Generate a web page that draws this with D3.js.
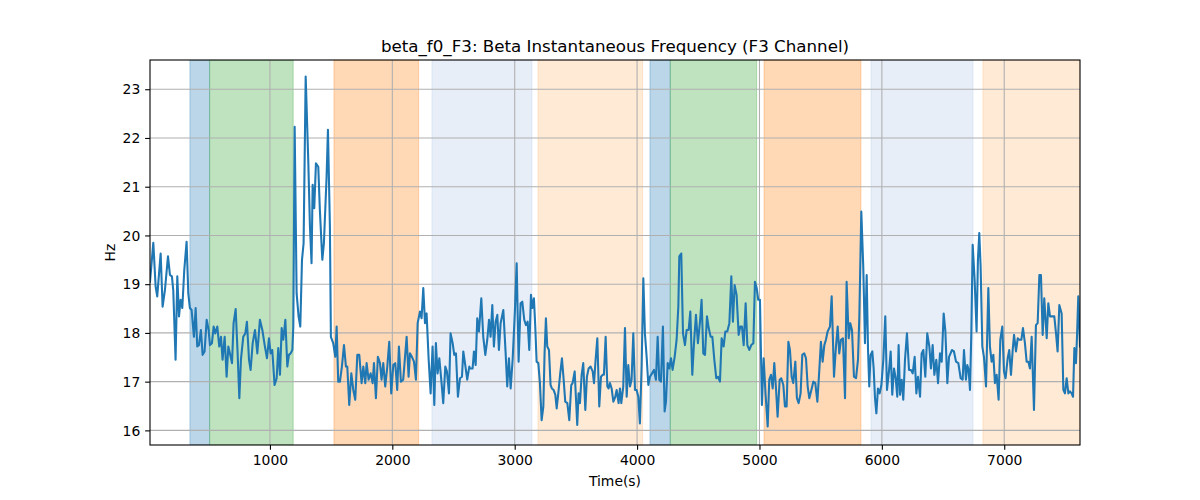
<!DOCTYPE html>
<html>
<head>
<meta charset="utf-8">
<script src="https://cdn.jsdelivr.net/npm/d3@7"></script>
<style>
  html, body { margin: 0; padding: 0; background: #fff; }
  svg { display: block; font-family: "DejaVu Sans", sans-serif; }
</style>
</head>
<body>
<svg id="chart" width="1200" height="500"></svg>
<script>
// ---------------- data ----------------
const titleText = "beta_f0_F3: Beta Instantaneous Frequency (F3 Channel)";
const xLabelText = "Time(s)";
const yLabelText = "Hz";

const xTicks = [1000, 2000, 3000, 4000, 5000, 6000, 7000];
const yTicks = [16, 17, 18, 19, 20, 21, 22, 23];
const yLimits = [15.70, 23.60];

const spanStarts = [346, 507, 1523, 2324, 3190, 4105, 4271, 5037, 5911, 6826];
const spanEnds   = [507, 1190, 2215, 3141, 4045, 4271, 4977, 5829, 6745, 7619];
const spanKinds  = ["A", "B", "C", "D", "E", "A", "B", "C", "D", "E"];

const times = [
20,47,66,79,107,123,142,167,183,199,210,229,243,257,270,284,300,319,333,346,360,379,393,406,420,436,450,466,483,499,510,526,540,553,570,586,600,613,630,646,660,673,690,703,720,736,750,763,782,799,812,829,842,859,878,897,918,938,959,976,992,1006,1019,1038,1055,1068,1082,1096,1109,1126,1142,1155,1169,1183,1191,1202,1218,1234,1248,1262,1275,1292,
1313,1327,1340,1349,1362,1376,1395,1408,1428,1441,1463,1474,1490,1498,1517,1534,1545,1558,1572,1588,1605,1621,1632,1648,1665,1681,1697,1714,1730,1749,1763,1779,1790,1806,1823,1839,1850,1866,1882,1899,1912,1926,1942,1959,1975,1991,2008,2024,2040,2054,2070,2089,2117,2133,2144,2160,2177,2193,2207,2226,2239,2253,2267,2280,2297,2313,2329,2343,2356,2370,2384,2400,2416,2433,2446,2463,2476,2493,2506,2520,2536,2553,2569,2580,2596,2612,2629,
2634,2656,2667,2681,2694,2708,2727,2743,2760,2776,2790,2803,2817,2830,2844,2858,2871,2885,2907,2926,2939,2953,2967,2983,3002,3016,3032,3048,3062,3078,3092,3106,3119,3133,3144,3157,3168,3179,3193,3206,3220,3234,3244,3255,3266,3280,3293,3304,3318,3332,3343,3359,3372,3386,3400,3413,3430,3446,3462,3473,3490,3501,3511,3522,3533,3547,3560,3577,3590,3604,3620,3637,3648,3661,3675,3691,3705,3718,3729,3743,3757,3767,3778,3792,3806,3822,3833,3849,3860,3871,3887,3901,3915,3928,3942,
3955,3969,3983,3996,4010,4023,4037,4051,4064,4078,4092,4105,4122,4138,4154,4168,4181,4195,4211,4225,4236,4250,4263,4277,4290,4307,4323,4337,4345,4361,4375,4391,4405,4421,4435,4451,4465,4481,4497,4514,4527,4541,4555,4571,4585,4601,4615,4631,4647,4661,4677,4691,4707,4721,4737,4754,4770,4783,4797,4813,4830,4843,4857,4871,4887,4901,4917,4933,4950,4963,4977,4990,5004,5020,5034,5050,5067,5080,5094,5108,5121,5135,5148,5165,5178,5195,5208,5222,5236,5249,
5263,5276,5293,5306,5320,5336,5350,5366,5380,5394,5407,5424,5440,5456,5473,5489,5502,5516,5530,5543,5557,5576,5590,5609,5625,5639,5652,5666,5682,5699,5712,5729,5742,5756,5772,5789,5805,5816,5832,5848,5862,5876,5887,5897,5908,5922,5933,5944,5955,5968,5982,5996,6012,6028,6042,6058,6072,6085,6099,6113,6126,6137,6148,6162,6175,6189,6205,6222,6238,6252,6268,6282,6295,6312,6325,6339,6355,6371,6388,6401,6415,6429,6445,6459,6475,6489,6505,6519,6535,6549,
6573,6589,6606,6625,6644,6660,6671,6687,6698,6709,6720,6731,6742,6758,6774,6785,6796,6807,6821,6834,6851,6870,6883,6897,6911,6924,6938,6954,6968,6984,6998,7011,7028,7041,7055,7069,7080,7096,7110,7123,7140,7153,7169,7183,7197,7210,7224,7243,7259,7273,7287,7300,7314,7327,7347,7360,7374,7387,7409,7423,7436,7450,7469,7483,7496,7510,7524,7537,7551,7562,7573,7586,7594,7605,7619
];

const values = [
19.05,19.85,18.95,18.75,19.63,18.54,18.88,19.57,19.19,19.16,18.88,17.45,19.16,18.34,18.68,18.51,19.29,19.87,18.81,18.51,18.47,17.92,18.51,17.72,17.75,18.06,17.55,17.62,18.27,18.06,17.75,17.79,18.13,17.99,18.13,17.72,17.92,17.45,17.92,17.10,17.72,17.58,17.38,18.20,18.49,17.58,16.66,17.45,17.92,17.99,18.23,17.45,17.24,17.79,18.06,17.58,18.27,18.06,17.72,17.48,17.89,17.58,17.65,16.93,17.07,17.69,17.14,18.10,17.86,18.27,17.31,17.55,17.58,17.65,18.13,22.23,18.81,18.34,18.13,19.50,19.84,23.26,
21.55,20.18,19.43,21.04,20.56,21.48,21.41,20.52,19.50,19.84,21.21,22.17,20.18,17.92,17.79,17.51,18.13,17.00,17.00,17.31,17.75,17.31,17.31,16.52,17.17,16.83,16.63,17.55,17.55,16.97,17.31,16.97,17.38,17.04,17.17,16.97,17.38,16.66,17.51,17.38,17.04,17.38,16.90,17.31,17.82,16.76,17.34,17.38,16.83,17.72,17.00,17.04,17.92,17.10,17.58,17.51,17.41,17.04,18.20,18.44,18.30,18.92,18.20,18.40,17.45,16.76,17.72,16.52,17.79,17.17,17.48,17.04,16.56,17.31,17.21,16.76,17.99,17.79,17.55,17.58,16.69,17.07,17.10,17.62,17.34,17.04,17.31,
17.27,17.27,17.62,17.34,18.30,18.03,18.71,17.92,17.55,17.86,18.27,17.92,18.57,17.72,18.23,18.37,17.65,18.20,18.47,17.58,16.90,17.48,16.86,17.45,18.47,19.43,17.41,18.61,18.64,18.27,18.16,18.23,17.65,18.78,18.51,18.71,18.13,17.41,17.38,16.97,16.21,16.49,17.58,18.30,17.72,17.65,16.93,16.86,16.83,16.73,16.45,16.83,17.17,17.48,17.04,16.59,16.56,16.21,16.93,16.97,17.21,16.63,16.11,16.76,16.56,17.14,17.38,16.42,17.10,17.27,17.31,17.21,16.97,17.45,17.89,16.49,17.10,17.14,17.14,17.92,16.90,16.86,16.97,16.86,16.59,16.69,16.83,16.56,16.86,16.56,16.90,18.10,16.69,17.34,16.90,
17.04,17.99,16.83,16.83,16.69,16.14,17.31,19.12,17.99,17.51,16.93,17.10,17.17,17.24,17.04,17.92,17.04,17.00,18.13,16.39,16.59,17.38,17.27,17.48,17.24,17.51,17.86,18.54,19.57,19.63,17.99,17.75,18.06,18.06,18.44,17.14,17.79,18.37,17.79,18.23,18.68,17.58,17.55,18.34,18.10,17.92,17.92,17.45,17.07,17.10,17.00,17.89,17.72,18.03,18.03,18.20,19.16,18.23,18.98,18.78,17.96,18.13,18.13,17.75,18.61,17.75,17.65,17.75,17.79,19.05,18.92,18.68,18.68,16.52,17.48,16.73,16.08,17.04,17.14,16.86,17.38,16.86,16.28,17.04,17.07,16.93,16.49,16.49,17.82,17.65,
17.10,16.97,17.41,16.66,16.56,16.76,17.55,17.58,17.48,16.90,16.66,16.83,17.00,16.97,16.59,17.24,17.82,17.41,17.75,17.86,18.03,18.13,18.75,17.10,17.72,18.13,17.58,17.86,17.89,16.66,19.05,17.89,18.20,18.06,17.10,17.07,17.45,18.34,20.49,19.36,17.79,19.19,17.65,16.90,17.55,17.62,17.27,16.66,16.35,16.86,16.76,16.93,17.45,18.34,16.83,17.21,17.62,16.73,17.27,17.07,16.69,17.75,16.73,17.04,16.63,17.45,17.99,17.24,17.24,17.17,17.51,16.76,17.10,16.69,17.58,17.65,17.10,17.99,17.72,17.27,17.75,17.14,17.45,16.97,17.58,17.41,18.40,18.03,16.97,17.51,
17.65,17.62,17.41,17.38,17.07,17.04,17.65,17.04,17.34,17.24,16.83,17.99,19.81,19.09,18.03,19.50,20.05,19.36,17.72,17.51,16.90,18.92,17.72,17.41,17.55,16.97,17.14,16.63,17.86,18.13,17.21,17.07,17.48,17.65,17.14,17.65,17.96,17.62,17.89,17.86,17.86,18.10,17.79,17.41,17.41,17.27,17.92,16.42,18.16,18.20,19.19,19.19,17.96,18.71,17.89,18.61,18.34,18.34,18.34,17.99,17.62,18.57,18.40,16.83,16.76,17.07,16.76,16.80,16.76,16.69,17.69,17.38,17.89,18.75,17.72
];

// ---------------- layout & style ----------------
const margin = { left: 150, right: 120, top: 60, bottom: 55 };
const W = 1200, H = 500;
const iw = W - margin.left - margin.right;
const ih = H - margin.top - margin.bottom;

const spanColor = {
  A: { c: "#1f77b4", o: 0.3 },
  B: { c: "#2ca02c", o: 0.3 },
  C: { c: "#ff7f0e", o: 0.3 },
  D: { c: "#aec7e8", o: 0.3 },
  E: { c: "#ffbb78", o: 0.3 }
};

const svg = d3.select("#chart");
const g = svg.append("g").attr("transform", `translate(${margin.left},${margin.top})`);

const x = d3.scaleLinear().domain(d3.extent(times)).range([0, iw]);
const y = d3.scaleLinear().domain(yLimits).range([ih, 0]);

g.append("clipPath").attr("id", "clip")
  .append("rect").attr("width", iw).attr("height", ih);

// spans
const spans = spanStarts.map((s, i) => ({ s, e: spanEnds[i], k: spanKinds[i] }));
g.append("g").attr("clip-path", "url(#clip)")
  .selectAll("rect").data(spans).join("rect")
  .attr("x", d => x(d.s))
  .attr("width", d => x(d.e) - x(d.s))
  .attr("y", 0).attr("height", ih)
  .attr("fill", d => spanColor[d.k].c)
  .attr("fill-opacity", d => spanColor[d.k].o)
  .attr("stroke", d => spanColor[d.k].c)
  .attr("stroke-opacity", d => spanColor[d.k].o)
  .attr("stroke-width", 1);

// grid
const grid = g.append("g").attr("stroke", "#b0b0b0").attr("stroke-width", 1.1);
grid.selectAll(".vx").data(xTicks).join("line")
  .attr("x1", d => x(d)).attr("x2", d => x(d))
  .attr("y1", 0).attr("y2", ih);
grid.selectAll(".hy").data(yTicks).join("line")
  .attr("y1", d => y(d)).attr("y2", d => y(d))
  .attr("x1", 0).attr("x2", iw);

// line
const pts = times.map((t, i) => [t, values[i]]);
g.append("path")
  .attr("clip-path", "url(#clip)")
  .datum(pts)
  .attr("fill", "none")
  .attr("stroke", "#1f77b4")
  .attr("stroke-width", 2.08)
  .attr("stroke-linejoin", "round")
  .attr("stroke-linecap", "square")
  .attr("d", d3.line().x(d => x(d[0])).y(d => y(d[1])));

// axes
const xAxis = d3.axisBottom(x).tickValues(xTicks).tickFormat(d3.format("d"))
  .tickSizeInner(4.86).tickSizeOuter(0).tickPadding(4.86);
const yAxis = d3.axisLeft(y).tickValues(yTicks).tickFormat(d3.format("d"))
  .tickSizeInner(4.86).tickSizeOuter(0).tickPadding(4.86);

const gx = g.append("g").attr("transform", `translate(0,${ih})`).call(xAxis);
const gy = g.append("g").call(yAxis);
[gx, gy].forEach(a => {
  a.select(".domain").remove();
  a.selectAll(".tick line").attr("stroke", "#000").attr("stroke-width", 1.1);
  a.selectAll(".tick text").attr("fill", "#000")
    .style("font-family", "DejaVu Sans").style("font-size", "13.9px");
});
gx.selectAll(".tick text").attr("dy", null).attr("y", 9.72).attr("dominant-baseline", "hanging");
gy.selectAll(".tick text").attr("dy", "0.34em");

// frame
g.append("rect").attr("width", iw).attr("height", ih)
  .attr("fill", "none").attr("stroke", "#000").attr("stroke-width", 1.1);

// labels
svg.append("text").attr("x", margin.left + iw / 2).attr("y", 51.7)
  .attr("text-anchor", "middle").style("font-size", "16.7px").attr("fill", "#000")
  .text(titleText);
svg.append("text").attr("x", margin.left + iw / 2).attr("y", 486)
  .attr("text-anchor", "middle").style("font-size", "13.9px").attr("fill", "#000")
  .text(xLabelText);
svg.append("text").attr("transform", `translate(115,${margin.top + ih / 2}) rotate(-90)`)
  .attr("text-anchor", "middle").style("font-size", "13.9px").attr("fill", "#000")
  .text(yLabelText);
</script>
</body>
</html>
